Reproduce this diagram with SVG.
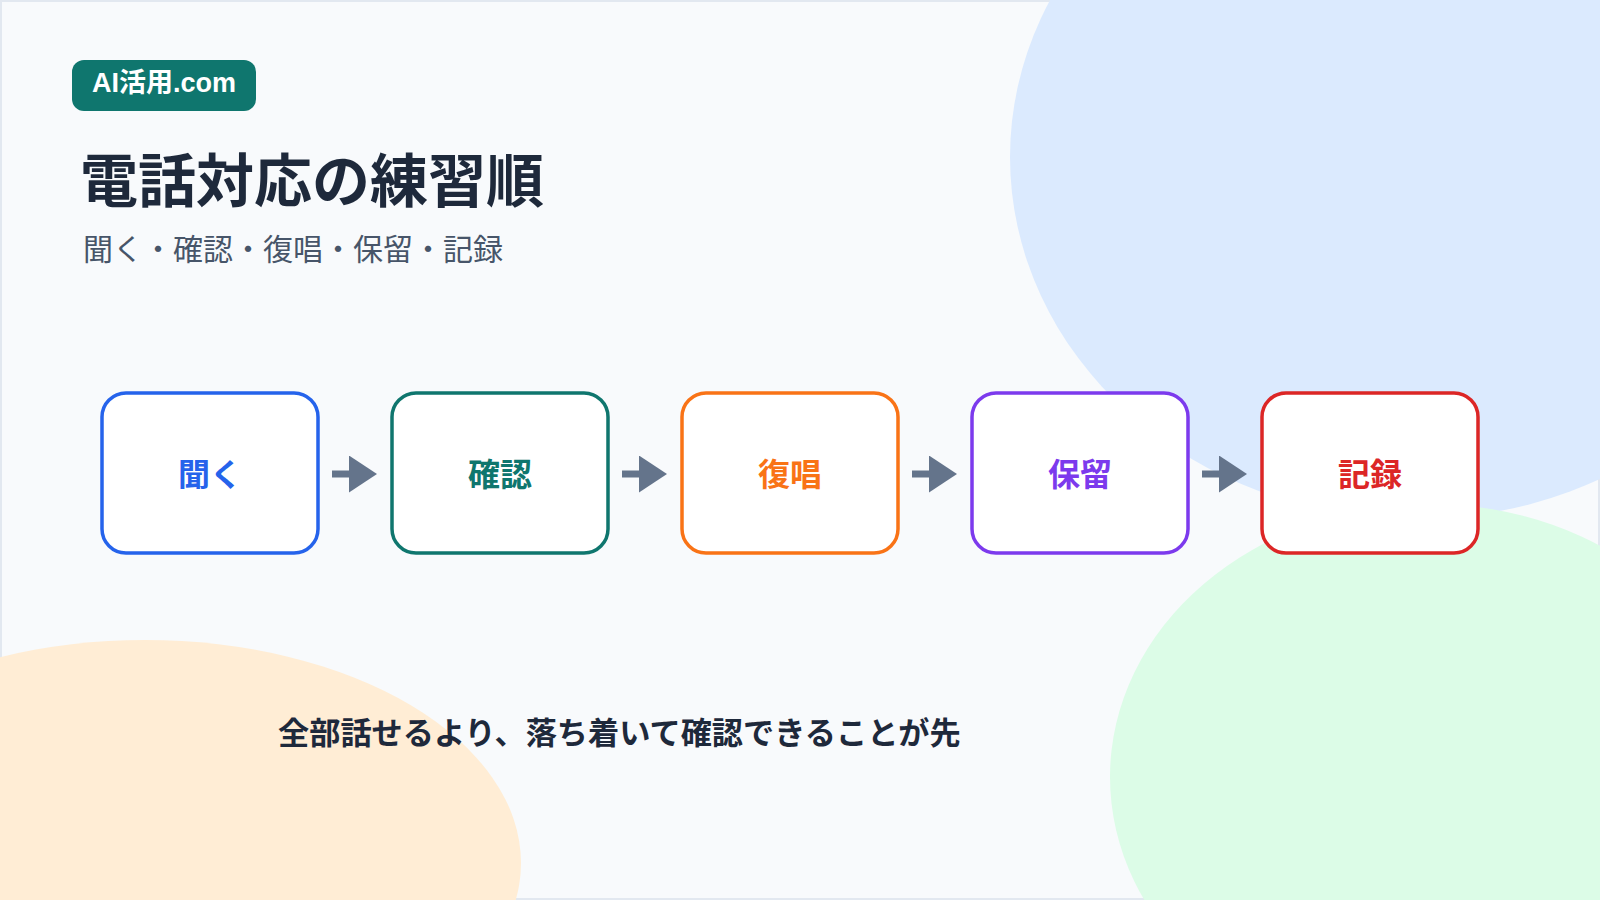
<svg xmlns="http://www.w3.org/2000/svg" width="1600" height="900" viewBox="0 0 1600 900">
  <defs>
    <style>
      .jp { font-family: "Noto Sans CJK JP", "Noto Sans", sans-serif; }
      .box { fill: #ffffff; stroke-width: 3.5; }
      .lbl { font-size: 32px; font-weight: 700; text-anchor: middle; }
      .conn { stroke: #64748b; stroke-width: 7; fill: none; }
    </style>
    <marker id="ah" viewBox="0 0 28 37" markerWidth="28" markerHeight="37" refX="2" refY="18.5" orient="auto" markerUnits="userSpaceOnUse">
      <path d="M0,0 L28,18.5 L0,37 Z" fill="#64748b"/>
    </marker>
  </defs>

  <g id="background">
    <rect x="1" y="1" width="1598" height="898" fill="#f8fafc" stroke="#e2e8f0" stroke-width="2"/>
    <ellipse cx="1415" cy="157" rx="405" ry="362" fill="#dbeafe"/>
    <ellipse cx="1430" cy="777" rx="320" ry="273" fill="#dcfce7"/>
    <ellipse cx="145" cy="863" rx="376" ry="223" fill="#ffedd5"/>
  </g>

  <g id="badge">
    <rect x="72" y="60" width="184" height="51" rx="12" fill="#0f766e"/>
    <text x="164" y="92" font-family="'Liberation Sans', 'Noto Sans CJK JP', sans-serif" font-size="27" font-weight="700" fill="#ffffff" text-anchor="middle">AI活用.com</text>
  </g>

  <g id="title">
    <text x="80" y="202" class="jp" font-size="58" font-weight="700" fill="#1e293b">電話対応の練習順</text>
    <text x="83" y="260" class="jp" font-size="30" fill="#475569">聞く・確認・復唱・保留・記録</text>
  </g>

  <g id="connectors">
    <line x1="332" y1="474" x2="351" y2="474" class="conn" marker-end="url(#ah)"/>
    <line x1="622" y1="474" x2="641" y2="474" class="conn" marker-end="url(#ah)"/>
    <line x1="912" y1="474" x2="931" y2="474" class="conn" marker-end="url(#ah)"/>
    <line x1="1202" y1="474" x2="1221" y2="474" class="conn" marker-end="url(#ah)"/>
  </g>

  <g id="node-kiku">
    <rect x="102" y="393" width="216" height="160" rx="24" class="box" stroke="#2563eb"/>
    <text x="210" y="486" class="jp lbl" fill="#2563eb">聞く</text>
  </g>
  <g id="node-kakunin">
    <rect x="392" y="393" width="216" height="160" rx="24" class="box" stroke="#0f766e"/>
    <text x="500" y="486" class="jp lbl" fill="#0f766e">確認</text>
  </g>
  <g id="node-fukusho">
    <rect x="682" y="393" width="216" height="160" rx="24" class="box" stroke="#f97316"/>
    <text x="790" y="486" class="jp lbl" fill="#f97316">復唱</text>
  </g>
  <g id="node-horyu">
    <rect x="972" y="393" width="216" height="160" rx="24" class="box" stroke="#7c3aed"/>
    <text x="1080" y="486" class="jp lbl" fill="#7c3aed">保留</text>
  </g>
  <g id="node-kiroku">
    <rect x="1262" y="393" width="216" height="160" rx="24" class="box" stroke="#dc2626"/>
    <text x="1370" y="486" class="jp lbl" fill="#dc2626">記録</text>
  </g>

  <g id="footer">
    <text x="278" y="744" class="jp" font-size="31.2" font-weight="700" fill="#1e293b">全部話せるより、落ち着いて確認できることが先</text>
  </g>
</svg>
